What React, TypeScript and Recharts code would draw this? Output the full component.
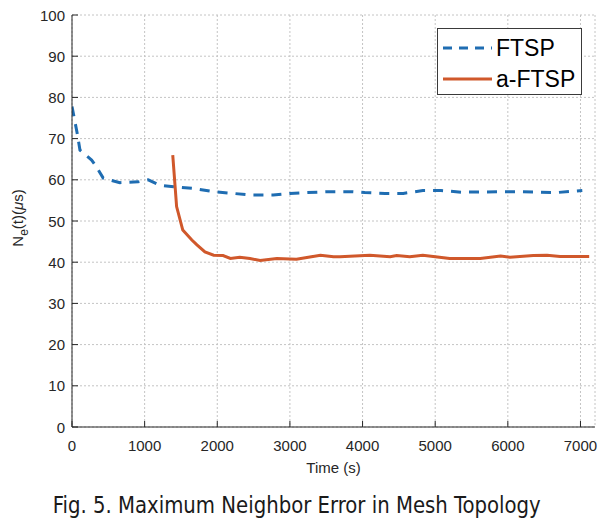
import { CartesianGrid, Legend, Line, LineChart, XAxis, YAxis } from "recharts";

const ftspTime = [0, 70, 110, 270, 320, 430, 660, 910, 1050, 1210, 1400, 1670, 1950, 2220, 2450, 2770, 3000, 3230, 3510, 3870, 4030, 4310, 4560, 4830, 5080, 5360, 5880, 6140, 6670, 7025];
const ftspValue = [77.8, 71.4, 67.2, 64.8, 63.6, 60.4, 59.3, 59.5, 60.0, 58.7, 58.3, 57.9, 57.1, 56.7, 56.3, 56.3, 56.7, 56.9, 57.1, 57.1, 56.9, 56.7, 56.7, 57.4, 57.4, 57.0, 57.1, 57.1, 56.9, 57.4];

const aftspTime = [1387, 1440, 1525, 1650, 1720, 1830, 1950, 2080, 2180, 2310, 2450, 2590, 2820, 3090, 3420, 3600, 3690, 4100, 4380, 4470, 4650, 4830, 5200, 5620, 5900, 6030, 6350, 6540, 6720, 7120];
const aftspValue = [66.0, 53.5, 47.8, 45.4, 44.2, 42.5, 41.7, 41.6, 40.9, 41.2, 40.9, 40.4, 40.9, 40.7, 41.7, 41.3, 41.3, 41.7, 41.3, 41.6, 41.3, 41.7, 40.9, 40.9, 41.5, 41.2, 41.6, 41.7, 41.4, 41.4];

const xTicks = [0, 1000, 2000, 3000, 4000, 5000, 6000, 7000];
const yTicks = [0, 10, 20, 30, 40, 50, 60, 70, 80, 90, 100];

const ftspData = ftspTime.map((t, i) => ({ t, v: ftspValue[i] }));
const aftspData = aftspTime.map((t, i) => ({ t, v: aftspValue[i] }));

const BLUE = "#1f6db2";
const ORANGE = "#d0582b";
const AXIS = "#262626";
const FONT = "'Liberation Sans', Arial, sans-serif";

const series = [
  { name: "FTSP", color: BLUE, dash: "10 8" },
  { name: "a-FTSP", color: ORANGE, dash: undefined as string | undefined },
];

const BottomTick = ({ x, y, payload }: any) => (
  <g>
    <line x1={x} y1={y} x2={x} y2={y - 6} stroke={AXIS} />
    <text x={x} y={y + 24} textAnchor="middle" fontSize={15} fontFamily={FONT} fill={AXIS}>
      {payload.value}
    </text>
  </g>
);

const TopTick = ({ x, y }: any) => <line x1={x} y1={y} x2={x} y2={y + 6} stroke={AXIS} />;

const LeftTick = ({ x, y, payload }: any) => (
  <g>
    <line x1={x} y1={y} x2={x + 6} y2={y} stroke={AXIS} />
    <text x={x - 7} y={y + 5.5} textAnchor="end" fontSize={15} fontFamily={FONT} fill={AXIS}>
      {payload.value}
    </text>
  </g>
);

const RightTick = ({ x, y }: any) => <line x1={x} y1={y} x2={x - 6} y2={y} stroke={AXIS} />;

const YLabel = () => (
  <text
    x={15}
    y={210}
    transform="rotate(-90, 15, 210)"
    textAnchor="middle"
    fontSize={15}
    fontFamily={FONT}
    fill={AXIS}
  >
    N<tspan fontSize={12} dy={5}>e</tspan>
    <tspan dy={-5}>(t)(</tspan>
    <tspan fontStyle="italic">μ</tspan>s)
  </text>
);

const XLabel = ({ viewBox }: any) => (
  <text
    x={viewBox.x + viewBox.width / 2}
    y={viewBox.y + 46}
    textAnchor="middle"
    fontSize={15}
    fontFamily={FONT}
    fill={AXIS}
  >
    Time (s)
  </text>
);

const LegendBox = () => (
  <div
    style={{
      width: 143,
      height: 65,
      border: "1px solid #3a3a3a",
      background: "#fff",
      position: "relative",
      fontFamily: FONT,
      fontSize: 23,
      color: "#000",
    }}
  >
    {series.map((s, i) => (
      <div key={s.name} style={{ position: "absolute", left: 0, top: 19 + i * 31 - 14, height: 28, display: "flex", alignItems: "center" }}>
        <svg width={58} height={28}>
          <line x1={5} y1={14} x2={54} y2={14} stroke={s.color} strokeWidth={3} strokeDasharray={s.dash ? "9 7" : undefined} />
        </svg>
        <span style={{ lineHeight: "28px" }}>{s.name}</span>
      </div>
    ))}
  </div>
);

export default function App() {
  return (
    <div style={{ position: "relative", width: 608, height: 516 }}>
      <LineChart width={608} height={480} margin={{ top: 7, right: 21, left: 24, bottom: 6 }}>
        <CartesianGrid xAxisId="b" yAxisId="l" stroke="#c4c4c4" strokeDasharray="2 2" />
        <XAxis
          xAxisId="b"
          dataKey="t"
          type="number"
          domain={[0, 7200]}
          ticks={xTicks}
          interval={0}
          height={55}
          tickSize={0}
          tickMargin={0}
          tickLine={false}
          tick={<BottomTick />}
          axisLine={{ stroke: AXIS }}
          allowDataOverflow
          label={<XLabel />}
        />
        <XAxis
          xAxisId="top"
          orientation="top"
          dataKey="t"
          type="number"
          domain={[0, 7200]}
          ticks={xTicks}
          interval={0}
          height={0}
          tickSize={0}
          tickMargin={0}
          tickLine={false}
          tick={<TopTick />}
          axisLine={{ stroke: AXIS }}
          allowDataOverflow
        />
        <YAxis
          yAxisId="l"
          type="number"
          domain={[0, 100]}
          ticks={yTicks}
          interval={0}
          width={40}
          tickSize={0}
          tickMargin={0}
          tickLine={false}
          tick={<LeftTick />}
          axisLine={{ stroke: AXIS }}
          allowDataOverflow
        />
        <YAxis
          yAxisId="r"
          orientation="right"
          type="number"
          domain={[0, 100]}
          ticks={yTicks}
          interval={0}
          width={0}
          tickSize={0}
          tickMargin={0}
          tickLine={false}
          tick={<RightTick />}
          axisLine={{ stroke: AXIS }}
          allowDataOverflow
        />
        <Line
          xAxisId="b"
          yAxisId="l"
          data={ftspData}
          dataKey="v"
          name="FTSP"
          type="linear"
          stroke={BLUE}
          strokeWidth={3}
          strokeDasharray="10 8"
          dot={false}
          isAnimationActive={false}
        />
        <Line
          xAxisId="b"
          yAxisId="l"
          data={aftspData}
          dataKey="v"
          name="a-FTSP"
          type="linear"
          stroke={ORANGE}
          strokeWidth={3}
          dot={false}
          isAnimationActive={false}
        />
        <Legend
          layout="vertical"
          align="center"
          verticalAlign="middle"
          content={<LegendBox />}
          wrapperStyle={{ left: 429, top: 20, width: 145, height: 67 }}
        />
      </LineChart>
      <svg width={608} height={480} style={{ position: "absolute", left: 0, top: 0, pointerEvents: "none" }}>
        <YLabel />
      </svg>
      <svg width={608} height={40} style={{ position: "absolute", left: 0, top: 478, pointerEvents: "none" }}>
        <text
          x={44.7}
          y={27}
          fontSize={23}
          fontFamily="'Liberation Sans Narrow', 'DejaVu Sans Condensed', sans-serif"
          fill="#1a1a1a"
          textLength={488}
          lengthAdjust="spacingAndGlyphs"
        >
          Fig. 5. Maximum Neighbor Error in Mesh Topology
        </text>
      </svg>
    </div>
  );
}
